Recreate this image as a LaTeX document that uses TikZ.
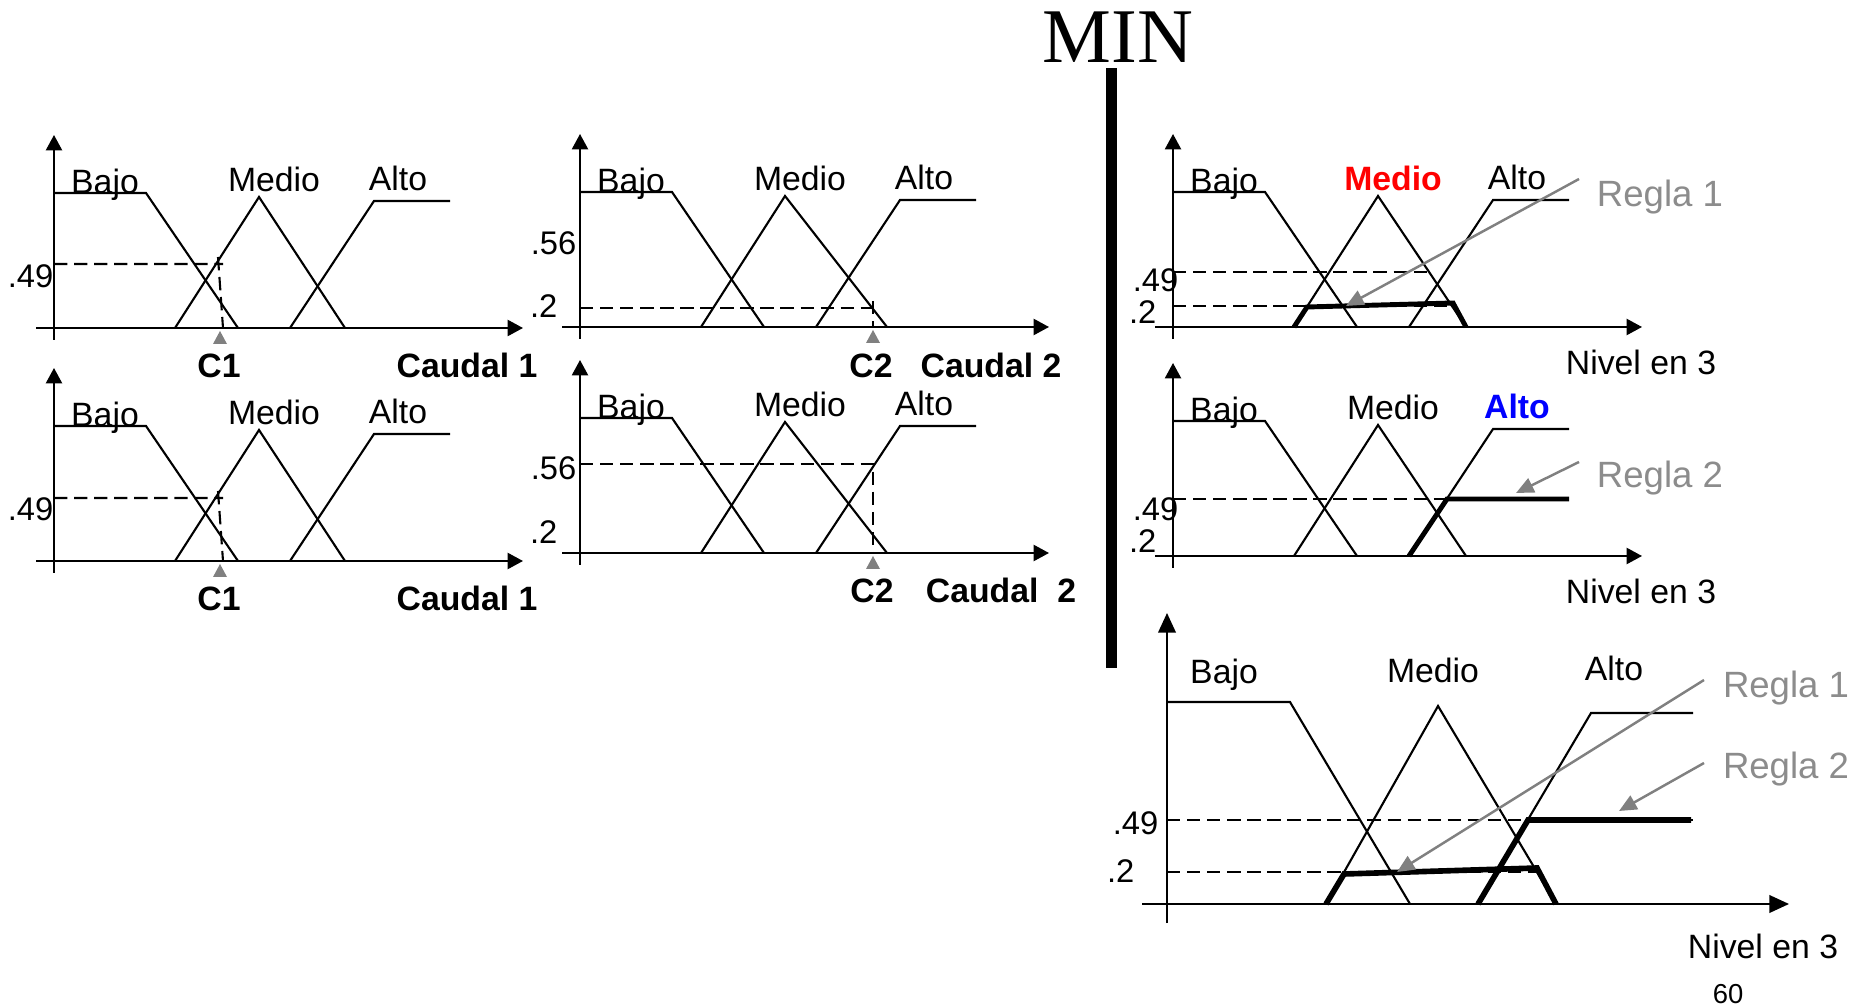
\documentclass[tikz,border=0pt]{standalone}
\usepackage{fontspec}
\setmainfont{Liberation Sans}
\newfontfamily\minfont{Liberation Serif}
\usetikzlibrary{arrows.meta}

\tikzset{
  axis/.style={line width=0.6pt, -{Triangle[length=4.4pt,width=4.6pt]}},
  bigaxis/.style={line width=0.6pt, -{Triangle[length=5.6pt,width=5pt]}},
  mf/.style={line width=0.6pt},
  cut/.style={line width=0.6pt, dash pattern=on 3.8pt off 1.9pt},
  clipped/.style={line width=1.4pt},
  rule/.style={draw=black!50, line width=0.7pt, -{Triangle[length=5pt,width=4.4pt]}},
  lbl/.style={inner sep=0pt, anchor=base, font=\fontsize{9.6}{11}\selectfont},
  tick/.style={inner sep=0pt, anchor=base east, font=\fontsize{9.3}{11}\selectfont},
  var/.style={lbl, font=\fontsize{9.6}{11}\selectfont\bfseries},
  hotm/.style={var, text=red},
  hota/.style={var, text=blue},
  regla/.style={lbl, text=black!45, font=\fontsize{10.4}{12}\selectfont},
}

\begin{document}
\begin{tikzpicture}[x=0.01cm, y=-0.01cm]
    \useasboundingbox (0,0) rectangle (1855,1007);

    % six small panels: axes and the three terms
    \foreach \ox/\oy/\mr/\mc/\ac [count=\i] in {54/328/291/lbl/lbl, 54/561/291/lbl/lbl,
        580/327/307/lbl/lbl, 580/553/307/lbl/lbl, 1173/327/293/hotm/lbl, 1173/556/293/lbl/hota}{
      \begin{scope}[shift={(\ox,\oy)}]
        \draw[axis] (0,12) -- (0,-193);
        \draw[axis] (-18,0) -- (469,0);
        \draw[mf] (0,-135) -- (92,-135) -- (184,0);
        \draw[mf] (121,0) -- (205,-131) -- (\mr,0);
        \draw[mf] (236,0) -- (320,-127) -- (396,-127);
        \node[lbl] (bajo\i) at (51,-134) {Bajo};
        \node[\mc] (medio\i) at (220,-136) {Medio};
        \node[\ac] (alto\i) at (344,-137) {Alto};
      \end{scope}
    }

    % input markers
    \foreach \px/\py in {220/331, 220/564, 873/330, 873/556}
      \fill[black!50] (\px,\py) -- ++(7,13) -- ++(-14,0) -- cycle;

    % Caudal 1
    \draw[cut] (54,264) -- (223,264) (218,257) -- (223,328);
    \draw[cut] (54,498) -- (223,498) (218,491) -- (223,561);
    \node[tick] (l49a) at (54,288) {.49};
    \node[tick] (l49b) at (54,521) {.49};
    \node[var] (c1a) at (219,378) {C1};
    \node[var] (caudal1a) at (467,378) {Caudal 1};
    \node[var] (c1b) at (219,611) {C1};
    \node[var] (caudal1b) at (467,611) {Caudal 1};

    % Caudal 2
    \draw[cut] (580,308) -- (875,308) (873,301) -- (873,327);
    \draw[cut] (580,464) -- (873,464) -- (873,553);
    \node[tick] (m56a) at (577,255) {.56};
    \node[tick] (m2a) at (558,318) {.2};
    \node[tick] (m56b) at (577,480) {.56};
    \node[tick] (m2b) at (558,544) {.2};
    \node[var] (c2a) at (871,378) {C2};
    \node[var] (caudal2a) at (991,378) {Caudal 2};
    \node[var] (c2b) at (872,603) {C2};
    \node[var] (caudal2b) at (1001,603) {Caudal\ \ 2};

    % MIN
    \node[lbl, font=\minfont\fontsize{22}{26}\selectfont] (min) at (1118,63) {MIN};
    \fill (1106,68) rectangle (1117,668);

    % Regla 1 on Nivel en 3
    \draw[cut] (1173,272) -- (1430,272);
    \draw[cut] (1173,306) -- (1451,306);
    \draw[clipped] (1294,327) -- (1307,307) -- (1453,303) -- (1466,327);
    \node[tick] (r49a) at (1179,292) {.49};
    \node[tick] (r2a) at (1157,324) {.2};
    \node[lbl] (nivela) at (1641,375) {Nivel en 3};
    \node[regla] (regla1a) at (1660,207) {Regla 1};
    \coordinate (r1from) at (1579,179);
    \coordinate (r1to) at (1346,306);
    \draw[rule] (r1from) -- (r1to);

    % Regla 2 on Nivel en 3
    \draw[cut] (1173,499) -- (1447,499);
    \draw[clipped] (1409,556) -- (1447,499) -- (1569,499);
    \node[tick] (r49b) at (1179,521) {.49};
    \node[tick] (r2b) at (1157,553) {.2};
    \node[lbl] (nivelb) at (1641,604) {Nivel en 3};
    \node[regla] (regla2a) at (1660,488) {Regla 2};
    \coordinate (r2from) at (1579,462);
    \coordinate (r2to) at (1516,493);
    \draw[rule] (r2from) -- (r2to);

    % aggregated output
    \draw[bigaxis] (1167,923) -- (1167,613);
    \draw[bigaxis] (1142,904) -- (1789,904);
    \draw[mf] (1167,702) -- (1290,702) -- (1410,904);
    \draw[mf] (1326,904) -- (1438,706) -- (1556,904);
    \draw[mf] (1478,904) -- (1591,713) -- (1693,713);
    \node[lbl] (bajoc) at (1224,684) {Bajo};
    \node[lbl] (medioc) at (1433,683) {Medio};
    \node[lbl] (altoc) at (1614,681) {Alto};
    \draw[cut] (1167,820) -- (1693,820);
    \draw[cut] (1167,872) -- (1537,872);
    \draw[clipped, line width=1.6pt] (1326,904) -- (1344,874) -- (1537,868) -- (1556,904);
    \draw[clipped, line width=1.6pt] (1478,904) -- (1528,820) -- (1691,820);
    \node[tick] (b49) at (1159,834) {.49};
    \node[tick] (b2) at (1135,882) {.2};
    \node[lbl] (nivelc) at (1763,958) {Nivel en 3};
    \node[regla] (regla1b) at (1786,698) {Regla 1};
    \node[regla] (regla2b) at (1786,779) {Regla 2};
    \coordinate (b1from) at (1704,680);
    \coordinate (b1to) at (1397,872);
    \coordinate (b2from) at (1704,763);
    \coordinate (b2to) at (1619,811);
    \draw[rule] (b1from) -- (b1to);
    \draw[rule] (b2from) -- (b2to);

    \node[lbl, font=\fontsize{7.8}{9}\selectfont] (page) at (1728,1003) {60};
\end{tikzpicture}
\end{document}
